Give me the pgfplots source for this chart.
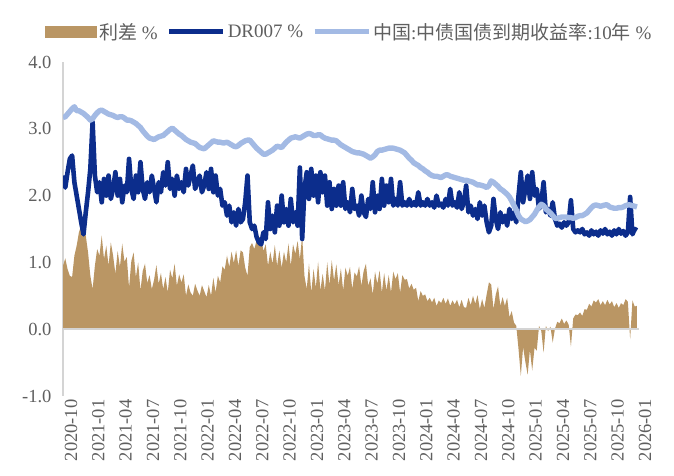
\documentclass[border=0pt]{standalone}
\usepackage{pgfplots}
\pgfplotsset{compat=1.18}
\usepackage{pgfplotstable}
\usepackage{fontspec}
\setmainfont{Liberation Serif}
\newfontfamily\cjk{Noto Sans CJK SC}

\definecolor{spreadc}{RGB}{186,150,100}
\definecolor{drc}{RGB}{12,45,140}
\definecolor{tenc}{RGB}{163,186,228}
\definecolor{axgray}{RGB}{212,212,212}
\definecolor{txtgray}{RGB}{95,95,95}

% m: months since 2020-10-01; y10: 10Y CGB yield; dr: DR007; sp: spread (%)
\pgfplotstableread{
m y10 dr sp
0.00 3.17 2.30 0.95
0.25 3.18 2.12 1.06
0.50 3.22 2.35 0.90
0.75 3.26 2.55 0.80
1.00 3.30 2.60 0.78
1.25 3.33 2.20 1.10
1.50 3.27 2.00 1.25
1.75 3.27 1.80 1.45
2.00 3.25 1.60 1.55
2.25 3.23 1.42 1.50
2.50 3.20 1.75 1.40
2.75 3.17 2.05 1.15
3.00 3.13 2.40 0.80
3.25 3.15 3.10 0.60
3.50 3.20 2.30 0.95
3.75 3.24 2.05 1.20
4.00 3.27 2.20 1.10
4.25 3.28 1.90 1.40
4.50 3.26 2.25 1.05
4.75 3.24 2.00 1.25
5.00 3.22 2.30 0.95
5.25 3.21 1.95 1.30
5.50 3.20 2.10 1.10
5.75 3.18 2.35 0.83
6.00 3.17 2.00 1.17
6.25 3.18 2.25 0.93
6.50 3.18 1.90 1.28
6.75 3.16 2.15 1.01
7.00 3.13 2.05 1.08
7.25 3.13 2.55 0.62
7.50 3.12 2.10 1.02
7.75 3.10 1.95 1.15
8.00 3.08 2.30 0.78
8.25 3.05 2.05 1.00
8.50 3.02 2.50 0.58
8.75 2.97 2.10 0.87
9.00 2.93 1.95 0.98
9.25 2.89 2.20 0.69
9.50 2.86 2.05 0.81
9.75 2.85 2.30 0.60
10.00 2.84 2.10 0.74
10.25 2.86 1.90 0.96
10.50 2.88 2.20 0.68
10.75 2.89 2.05 0.84
11.00 2.90 2.35 0.60
11.25 2.93 2.15 0.78
11.50 2.96 2.50 0.55
11.75 2.99 2.10 0.89
12.00 3.01 2.25 0.76
12.25 2.98 2.00 0.98
12.50 2.95 2.30 0.65
12.75 2.92 2.10 0.82
13.00 2.90 2.20 0.70
13.25 2.87 2.05 0.82
13.50 2.84 2.40 0.50
13.75 2.82 2.15 0.67
14.00 2.80 2.30 0.55
14.25 2.79 2.45 0.50
14.50 2.78 2.10 0.68
14.75 2.75 2.20 0.58
15.00 2.72 2.30 0.50
15.25 2.71 2.05 0.66
15.50 2.70 2.15 0.57
15.75 2.73 2.35 0.48
16.00 2.76 2.10 0.66
16.25 2.79 2.40 0.50
16.50 2.82 2.05 0.77
16.75 2.81 2.30 0.55
17.00 2.80 2.00 0.80
17.25 2.80 2.10 0.70
17.50 2.79 1.85 0.94
17.75 2.79 1.90 0.89
18.00 2.80 1.70 1.10
18.25 2.78 1.85 0.93
18.50 2.76 1.60 1.16
18.75 2.74 1.75 0.99
19.00 2.73 1.55 1.18
19.25 2.75 1.80 0.95
19.50 2.78 1.60 1.18
19.75 2.80 1.65 1.15
20.00 2.82 1.90 0.92
20.25 2.83 2.30 0.80
20.50 2.83 1.60 1.23
20.75 2.79 1.50 1.29
21.00 2.75 1.55 1.20
21.25 2.71 1.38 1.33
21.50 2.68 1.30 1.38
21.75 2.65 1.27 1.38
22.00 2.62 1.45 1.17
22.25 2.62 1.35 1.27
22.50 2.64 1.90 0.95
22.75 2.66 1.50 1.16
23.00 2.68 1.70 0.98
23.25 2.71 1.45 1.26
23.50 2.74 1.85 0.95
23.75 2.73 1.55 1.18
24.00 2.72 2.00 0.92
24.25 2.76 1.60 1.16
24.50 2.80 1.80 1.00
24.75 2.83 1.55 1.28
25.00 2.86 1.95 0.95
25.25 2.87 1.60 1.27
25.50 2.88 1.75 1.13
25.75 2.87 1.55 1.32
26.00 2.86 2.42 1.05
26.25 2.88 1.35 1.40
26.50 2.90 2.10 0.80
26.75 2.92 2.35 0.60
27.00 2.93 1.95 0.98
27.25 2.92 2.40 0.55
27.50 2.90 2.00 0.90
27.75 2.90 2.30 0.62
28.00 2.91 1.90 1.01
28.25 2.91 2.35 0.58
28.50 2.88 2.05 0.83
28.75 2.86 2.30 0.58
29.00 2.85 1.85 1.00
29.25 2.84 2.20 0.66
29.50 2.83 1.80 1.03
29.75 2.83 2.10 0.73
30.00 2.82 1.85 0.97
30.25 2.79 2.15 0.66
30.50 2.76 1.85 0.91
30.75 2.74 2.20 0.58
31.00 2.72 1.80 0.92
31.25 2.70 1.90 0.80
31.50 2.68 1.75 0.93
31.75 2.66 2.10 0.60
32.00 2.65 1.80 0.85
32.25 2.64 1.85 0.79
32.50 2.64 1.70 0.94
32.75 2.63 2.00 0.65
33.00 2.62 1.75 0.87
33.25 2.60 1.68 0.98
33.50 2.58 1.95 0.65
33.75 2.56 1.80 0.76
34.00 2.58 2.20 0.52
34.25 2.61 1.75 0.86
34.50 2.66 2.00 0.68
34.75 2.68 1.80 0.88
35.00 2.68 2.25 0.55
35.25 2.69 1.85 0.84
35.50 2.70 2.15 0.58
35.75 2.71 1.90 0.81
36.00 2.71 2.25 0.55
36.25 2.71 1.85 0.86
36.50 2.70 1.95 0.75
36.75 2.69 1.85 0.84
37.00 2.68 2.20 0.55
37.25 2.66 1.85 0.81
37.50 2.64 1.90 0.74
37.75 2.60 1.85 0.75
38.00 2.56 1.95 0.61
38.25 2.53 1.85 0.68
38.50 2.49 1.90 0.59
38.75 2.47 1.85 0.62
39.00 2.45 2.05 0.42
39.25 2.42 1.85 0.57
39.50 2.40 1.90 0.50
39.75 2.37 1.85 0.52
40.00 2.35 1.95 0.42
40.25 2.32 1.85 0.47
40.50 2.30 1.90 0.40
40.75 2.29 1.82 0.47
41.00 2.29 2.00 0.35
41.25 2.28 1.85 0.43
41.50 2.27 1.88 0.39
41.75 2.29 1.82 0.47
42.00 2.31 1.95 0.38
42.25 2.31 1.85 0.46
42.50 2.29 2.10 0.35
42.75 2.28 1.85 0.43
43.00 2.27 1.90 0.37
43.25 2.26 1.82 0.44
43.50 2.25 2.05 0.33
43.75 2.24 1.80 0.44
44.00 2.23 1.90 0.33
44.25 2.23 2.15 0.32
44.50 2.22 1.75 0.47
44.75 2.21 1.85 0.36
45.00 2.20 1.70 0.50
45.25 2.18 1.80 0.38
45.50 2.16 1.65 0.51
45.75 2.16 1.90 0.30
46.00 2.15 1.70 0.45
46.25 2.14 1.85 0.32
46.50 2.12 1.60 0.52
46.75 2.15 1.45 0.70
47.00 2.22 1.55 0.67
47.25 2.20 1.95 0.30
47.50 2.17 1.65 0.52
47.75 2.14 1.50 0.64
48.00 2.10 1.75 0.35
48.25 2.08 1.60 0.48
48.50 2.05 1.70 0.35
48.75 2.02 1.55 0.47
49.00 1.98 1.80 0.18
49.25 1.92 1.65 0.27
49.50 1.85 1.75 0.10
49.75 1.78 1.60 0.05
50.00 1.70 2.00 -0.30
50.25 1.65 2.35 -0.70
50.50 1.63 1.90 -0.27
50.75 1.61 2.10 -0.49
51.00 1.62 2.30 -0.68
51.25 1.64 1.95 -0.31
51.50 1.68 2.35 -0.62
51.75 1.72 2.00 -0.28
52.00 1.78 2.10 -0.32
52.25 1.83 1.80 0.05
52.50 1.87 1.90 -0.03
52.75 1.85 2.20 -0.35
53.00 1.80 1.75 0.05
53.25 1.77 1.80 -0.03
53.50 1.74 1.70 0.04
53.75 1.70 1.90 -0.20
54.00 1.66 1.65 0.01
54.25 1.66 1.55 0.11
54.50 1.67 1.58 0.09
54.75 1.68 1.52 0.16
55.00 1.68 1.60 0.08
55.25 1.68 1.55 0.13
55.50 1.67 1.60 0.07
55.75 1.67 1.93 -0.26
56.00 1.66 1.50 0.16
56.25 1.67 1.45 0.22
56.50 1.69 1.48 0.21
56.75 1.70 1.45 0.25
57.00 1.70 1.50 0.20
57.25 1.72 1.42 0.30
57.50 1.74 1.45 0.29
57.75 1.78 1.40 0.38
58.00 1.82 1.48 0.34
58.25 1.85 1.42 0.43
58.50 1.86 1.46 0.40
58.75 1.85 1.40 0.45
59.00 1.84 1.48 0.36
59.25 1.85 1.43 0.42
59.50 1.86 1.50 0.36
59.75 1.86 1.42 0.44
60.00 1.83 1.46 0.37
60.25 1.82 1.40 0.42
60.50 1.81 1.48 0.33
60.75 1.81 1.42 0.39
61.00 1.82 1.50 0.32
61.25 1.82 1.43 0.39
61.50 1.83 1.47 0.36
61.75 1.85 1.40 0.45
62.00 1.86 1.45 0.41
62.25 1.86 1.98 -0.15
62.50 1.85 1.42 0.43
62.75 1.84 1.50 0.34
63.00 1.83 1.48 0.35
}\rates

\begin{document}
\begin{tikzpicture}
\path[use as bounding box] (0pt,0pt) rectangle (674pt,476pt);
\begin{axis}[
  at={(63pt,80pt)}, anchor=south west,
  scale only axis, width=575.8pt, height=334pt,
  xmin=0, xmax=63.2, ymin=-1, ymax=4,
  axis y line*=left, axis x line*=bottom,
  x axis line style={draw=none},
  y axis line style={axgray, line width=1.5pt, -},
  xtick={0,3,...,63},
  xticklabels={2020-10,2021-01,2021-04,2021-07,2021-10,2022-01,2022-04,2022-07,2022-10,2023-01,2023-04,2023-07,2023-10,2024-01,2024-04,2024-07,2024-10,2025-01,2025-04,2025-07,2025-10,2026-01},
  ytick={-1,0,...,4},
  major tick length=0pt,
  tick label style={txtgray, font=\fontsize{18.5pt}{18.5pt}\selectfont},
  xticklabel style={rotate=90, anchor=east, yshift=-8pt},
  yticklabel style={anchor=east, xshift=-8pt},
  yticklabel={\pgfmathprintnumber[fixed, fixed zerofill, precision=1, assume math mode=true]{\tick}},
  legend style={at={(-0.0313,1.09)}, anchor=west, draw=none, fill=none,
    inner sep=0pt, text=txtgray, font=\fontsize{19pt}{19pt}\selectfont,
    /tikz/every even column/.append style={column sep=7pt}},
  legend columns=-1,
  legend cell align=left,
]
\addplot[fill=spreadc, draw=none,
  legend image code/.code={\fill[spreadc] (0pt,-6pt) rectangle (52pt,6pt);}]
  table[x=m, y=sp]{\rates} \closedcycle;
\addlegendentry{{\cjk 利差} \%}
\addplot[drc, line width=4.6pt, line join=round,
  legend image code/.code={\draw[drc, line width=5pt] (0pt,0pt) -- (54pt,0pt);}]
  table[x=m, y=dr]{\rates};
\addlegendentry{DR007 \%}
\addplot[tenc, line width=5.4pt, line join=round,
  legend image code/.code={\draw[tenc, line width=5pt] (0pt,0pt) -- (54pt,0pt);}]
  table[x=m, y=y10]{\rates};
\addlegendentry{{\cjk 中国}:{\cjk 中债国债到期收益率}:10{\cjk 年} \%}
\draw[axgray, line width=1.5pt] (axis cs:0,0) -- (axis cs:63.2,0);
\end{axis}
\end{tikzpicture}
\end{document}
